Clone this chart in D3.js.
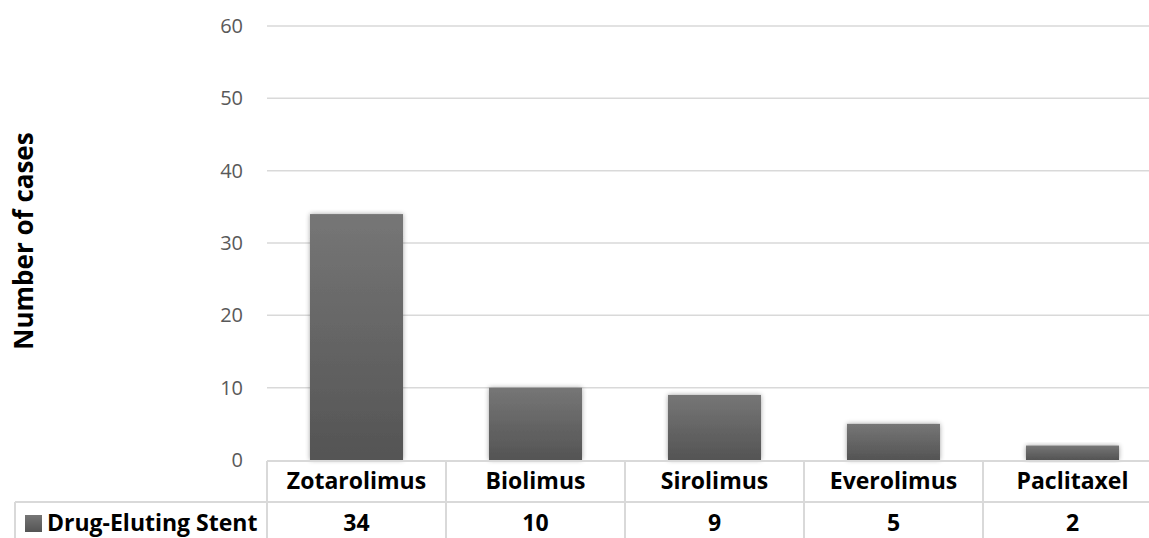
<!DOCTYPE html>
<html><head><meta charset="utf-8">
<script src="https://cdn.jsdelivr.net/npm/d3@7"></script>
<style>body{margin:0;background:#fff;} svg{display:block;}</style>
</head><body>
<svg id="c" width="1149" height="538"></svg>
<script>
const categories = ["Zotarolimus","Biolimus","Sirolimus","Everolimus","Paclitaxel"];
const values = [34,10,9,5,2];
const seriesName = "Drug-Eluting Stent";
const yTicks = [0,10,20,30,40,50,60];
const yTitle = "Number of cases";

const svg = d3.select("#c");
const FONT = "'Open Sans', sans-serif";
const left = 267, catW = 179, right = left + catW*categories.length;
const x = d3.scaleBand().domain(categories).range([left, right]).paddingInner(0.48).paddingOuter(0.24);
const xc = d3.scaleBand().domain(categories).range([left, right]);
const y = d3.scaleLinear().domain([0,60]).range([460, 26]);

const defs = svg.append("defs");
const g = defs.append("linearGradient").attr("id","bg").attr("x1",0).attr("y1",0).attr("x2",0).attr("y2",1);
g.append("stop").attr("offset","0%").attr("stop-color","#767676");
g.append("stop").attr("offset","100%").attr("stop-color","#545454");
const f = defs.append("filter").attr("id","sh").attr("x","-20%").attr("y","-20%").attr("width","140%").attr("height","140%");
f.append("feGaussianBlur").attr("in","SourceAlpha").attr("stdDeviation",2.5).attr("result","b");
f.append("feOffset").attr("in","b").attr("dx",0).attr("dy",0).attr("result","o");
f.append("feComponentTransfer").attr("in","o").attr("result","o2").append("feFuncA").attr("type","linear").attr("slope",0.35);
const m = f.append("feMerge"); m.append("feMergeNode").attr("in","o2"); m.append("feMergeNode").attr("in","SourceGraphic");

// gridlines
svg.append("g").selectAll("line").data(yTicks.filter(d=>d>0)).join("line")
  .attr("x1",left).attr("x2",1149).attr("y1",d=>y(d)).attr("y2",d=>y(d))
  .attr("stroke","#d9d9d9").attr("stroke-width",1.5);

// y tick labels
svg.append("g").selectAll("text").data(yTicks).join("text")
  .attr("x",243).attr("y",d=>y(d)).attr("dy","0.35em").attr("text-anchor","end")
  .attr("font-family",FONT).attr("font-size",20).attr("fill","#595959")
  .text(d=>d);

// bars
svg.append("g").selectAll("rect").data(values).join("rect")
  .attr("x",(d,i)=>x(categories[i])).attr("width",x.bandwidth())
  .attr("y",d=>y(d)).attr("height",d=>y(0)-y(d))
  .attr("fill","url(#bg)").attr("filter","url(#sh)");

// table lines
const tl = svg.append("g").attr("stroke","#d9d9d9").attr("stroke-width",2);
tl.append("line").attr("x1",left).attr("x2",1149).attr("y1",461).attr("y2",461);
tl.append("line").attr("x1",15).attr("x2",1149).attr("y1",502).attr("y2",502);
tl.append("line").attr("x1",15).attr("x2",15).attr("y1",502).attr("y2",538);
tl.selectAll("line.v").data(categories).join("line").attr("class","v")
  .attr("x1",d=>xc(d)).attr("x2",d=>xc(d)).attr("y1",461).attr("y2",538);

// category labels
svg.append("g").selectAll("text").data(categories).join("text")
  .attr("x",d=>xc(d)+xc.bandwidth()/2).attr("y",481).attr("dy","0.35em").attr("text-anchor","middle")
  .attr("font-family",FONT).attr("font-weight","bold").attr("font-size",23).attr("fill","#000")
  .text(d=>d);

// values row
svg.append("g").selectAll("text").data(values).join("text")
  .attr("x",(d,i)=>xc(categories[i])+xc.bandwidth()/2).attr("y",523).attr("dy","0.35em").attr("text-anchor","middle")
  .attr("font-family",FONT).attr("font-weight","bold").attr("font-size",23).attr("fill","#000")
  .text(d=>d);

// legend key
svg.append("rect").attr("x",25).attr("y",515).attr("width",17).attr("height",17).attr("fill","url(#bg)");
svg.append("text").attr("x",47).attr("y",523).attr("dy","0.35em")
  .attr("font-family",FONT).attr("font-weight","bold").attr("font-size",23).attr("fill","#000")
  .text(seriesName);

// y title
svg.append("text").attr("transform","translate(33,241) rotate(-90)").attr("text-anchor","middle")
  .attr("font-family",FONT).attr("font-weight","bold").attr("font-size",26).attr("fill","#000")
  .text(yTitle);
</script>
</body></html>
